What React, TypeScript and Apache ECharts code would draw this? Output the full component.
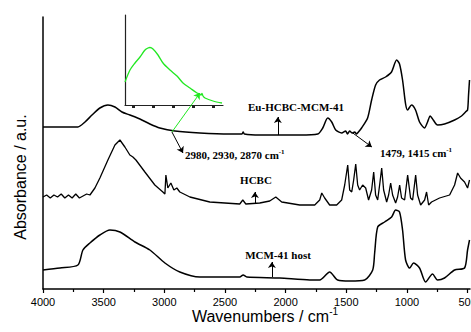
import React, { useEffect, useRef } from "react";
import * as echarts from "echarts";

// ---- data (wavenumber cm-1, absorbance a.u.) ----
const euWn = [4000,3860,3712,3654,3596,3531,3465,3407,3349,3284,3201,3119,3037,2913,2707,2460,2360,2350,2340,2213,2048,1884,1735,1694,1653,1620,1587,1538,1505,1490,1472,1450,1431,1415,1400,1374,1324,1291,1258,1226,1176,1127,1085,1061,1036,1011,995,962,929,896,855,830,808,783,747,690,607,550,517,500,492,484];
const euAbs = [162,162,162,167,174,181,184,182,177,174,170,165,161,158,156,155,155,157,155,154,154,154,155,161,171,167,159,156,158,155,158,156,157,155,157,161,171,189,204,209,212,217,229,225,209,185,179,184,179,167,161,167,173,169,164,165,169,173,177,179,194,209];

const hcbcWn = [4000,3970,3940,3910,3880,3850,3820,3790,3760,3730,3700,3670,3640,3613,3572,3531,3465,3407,3366,3325,3284,3259,3234,3160,3078,3012,2995,2987,2971,2946,2921,2897,2872,2789,2625,2378,2353,2328,2213,2131,2081,2032,1884,1760,1719,1702,1678,1637,1579,1538,1513,1488,1472,1455,1439,1422,1406,1390,1365,1340,1316,1291,1274,1258,1241,1225,1208,1192,1167,1151,1134,1118,1093,1077,1060,1044,1019,994,970,953,928,912,887,854,838,821,797,731,648,607,582,558,525,500,484];
const hcbcAbs = [92,94,91,94,92,95,91,94,91,95,91,93,95,94,101,111,129,144,149,142,134,132,129,117,104,97,95,114,101,106,99,101,97,92,87,85,89,85,86,88,92,87,84,84,89,96,91,84,84,89,104,124,99,97,109,125,104,99,104,101,89,99,117,94,89,104,121,99,87,94,106,94,86,92,104,91,89,114,91,89,114,94,84,89,97,84,87,91,94,104,116,111,107,101,109];

const mcmWn = [4000,3860,3712,3671,3613,3531,3448,3366,3242,3119,2995,2872,2707,2378,2350,2320,2048,1801,1719,1637,1571,1472,1348,1282,1266,1241,1184,1126,1093,1061,1036,1011,978,945,896,846,789,747,690,607,525,500,484];
const mcmAbs = [19,21,24,39,46,54,59,57,47,39,26,17,12,12,14,12,11,9,9,17,9,8,9,19,36,62,67,72,79,77,59,29,21,26,21,7,15,9,11,19,21,39,49];

// inset emission curve
const insetX = [0,5,10,15,20,23,25,28,33,38,45,52,58,65,72,74,76,77,78,80,88,97];
const insetY = [23,35,42,48,55,57,57.5,56,50,42,35,29,22,17,12,11.5,10,11.5,9,7,4,2];
const insetTicks = [8,28,48,68,88];

const majorTicks = [4000,3500,3000,2500,2000,1500,1000,500];
const minorTicks = [3750,3250,2750,2250,1750,1250,750];

const zip = (a: number[], b: number[]) => a.map((v, i) => [v, b[i]]);

const serifBold = { fontFamily: "Liberation Serif", fontWeight: "bold" as const, fontSize: 11, fill: "#000" };

export default function App() {
  const ref = useRef<HTMLDivElement>(null);
  useEffect(() => {
    if (!ref.current) return;
    const chart = echarts.init(ref.current, null, { renderer: "svg" });
    const axisLine = { show: true, lineStyle: { color: "#000", width: 1.5 } };
    const arrow = (a: number[], b: number[], color = "#000") => [
      { coord: a, lineStyle: { color } },
      { coord: b },
    ];
    chart.setOption({
      animation: false,
      backgroundColor: "#fff",
      grid: [
        { left: 43, right: 1, top: 17, bottom: 43, containLabel: false, outerBoundsMode: "none" },
        { left: 125, top: 15, width: 98, height: 90, containLabel: false, outerBoundsMode: "none" },
      ],
      xAxis: [
        {
          type: "value", gridIndex: 0, inverse: true, min: 480, max: 4000,
          axisLine,
          axisTick: { show: true, customValues: majorTicks, length: 4, lineStyle: { color: "#000", width: 1.2 } },
          axisLabel: { show: true, customValues: majorTicks, margin: 7, color: "#000", fontSize: 11, fontFamily: "Liberation Sans", formatter: (v: number) => String(v), hideOverlap: false },
          splitLine: { show: false },
        },
        {
          type: "value", gridIndex: 0, inverse: true, min: 480, max: 4000, position: "bottom",
          axisLine: { show: false },
          axisTick: { show: true, customValues: minorTicks, length: 3, lineStyle: { color: "#000", width: 1.2 } },
          axisLabel: { show: false },
          splitLine: { show: false },
        },
        {
          type: "value", gridIndex: 1, min: 0, max: 98,
          axisLine: { show: true, lineStyle: { color: "#222", width: 1.2 } },
          axisTick: { show: true, customValues: insetTicks, length: 3, lineStyle: { color: "#222", width: 3 } },
          axisLabel: { show: false },
          splitLine: { show: false },
        },
      ],
      yAxis: [
        {
          type: "value", gridIndex: 0, min: 0, max: 272,
          axisLine, axisTick: { show: false }, axisLabel: { show: false }, splitLine: { show: false },
        },
        {
          type: "value", gridIndex: 1, min: 0, max: 90,
          axisLine: { show: true, lineStyle: { color: "#222", width: 1.2 } },
          axisTick: { show: false }, axisLabel: { show: false }, splitLine: { show: false },
        },
      ],
      series: [
        {
          type: "line", xAxisIndex: 0, yAxisIndex: 0, data: zip(euWn, euAbs), showSymbol: false, symbol: "none",
          smooth: 0.25,
          lineStyle: { color: "#000", width: 1.5 },
          markLine: {
            silent: true, symbol: ["none", "arrow"], symbolSize: 6, label: { show: false },
            lineStyle: { color: "#000", width: 1, type: "solid" },
            data: [
              arrow([2064, 154], [2064, 172]),
              arrow([2253, 86], [2253, 97]),
              arrow([2113, 12], [2113, 27]),
              arrow([2937, 157], [2846, 136]),
              arrow([1446, 156], [1289, 142]),
              arrow([2937, 157], [2706, 196], "#22e822"),
            ],
          },
        },
        { type: "line", xAxisIndex: 0, yAxisIndex: 0, data: zip(hcbcWn, hcbcAbs), showSymbol: false, symbol: "none", lineStyle: { color: "#000", width: 1.3 } },
        { type: "line", xAxisIndex: 0, yAxisIndex: 0, data: zip(mcmWn, mcmAbs), showSymbol: false, symbol: "none", smooth: 0.25, lineStyle: { color: "#000", width: 1.5 } },
        { type: "line", xAxisIndex: 2, yAxisIndex: 1, data: zip(insetX, insetY), showSymbol: false, symbol: "none", smooth: 0.3, lineStyle: { color: "#22e822", width: 1.3 } },
      ],
      graphic: [
        { type: "text", x: 296, y: 107, style: { ...serifBold, text: "Eu-HCBC-MCM-41", textAlign: "center", textVerticalAlign: "middle" } },
        { type: "text", x: 256, y: 180, style: { ...serifBold, text: "HCBC", textAlign: "center", textVerticalAlign: "middle" } },
        { type: "text", x: 278, y: 255, style: { ...serifBold, text: "MCM-41 host", textAlign: "center", textVerticalAlign: "middle" } },
        {
          type: "text", x: 185, y: 155,
          style: {
            text: "{a|2980, 2930, 2870 cm}{s|-1}", textAlign: "left", textVerticalAlign: "middle",
            rich: { a: { ...serifBold, lineHeight: 14 }, s: { ...serifBold, fontSize: 7, verticalAlign: "top" } },
          },
        },
        {
          type: "text", x: 380, y: 153,
          style: {
            text: "{a|1479, 1415 cm}{s|-1}", textAlign: "left", textVerticalAlign: "middle",
            rich: { a: { ...serifBold, lineHeight: 14 }, s: { ...serifBold, fontSize: 7, verticalAlign: "top" } },
          },
        },
        {
          type: "text", x: 20, y: 177, rotation: Math.PI / 2,
          style: { text: "Absorbance / a.u.", fontFamily: "Liberation Sans", fontSize: 16, fill: "#000", textAlign: "center", textVerticalAlign: "middle" },
        },
        {
          type: "text", x: 265, y: 316,
          style: {
            text: "{a|Wavenumbers / cm}{s|-1}", textAlign: "center", textVerticalAlign: "middle",
            rich: {
              a: { fontFamily: "Liberation Sans", fontSize: 16, fill: "#000", lineHeight: 20 },
              s: { fontFamily: "Liberation Sans", fontSize: 10, fill: "#000", verticalAlign: "top" },
            },
          },
        },
      ],
    });
    return () => chart.dispose();
  }, []);
  return (
    <div style={{ position: "absolute", left: 0, top: 0, width: 471, height: 332, overflow: "hidden", background: "#fff" }}>
      <div ref={ref} style={{ width: 471, height: 332 }} />
    </div>
  );
}
